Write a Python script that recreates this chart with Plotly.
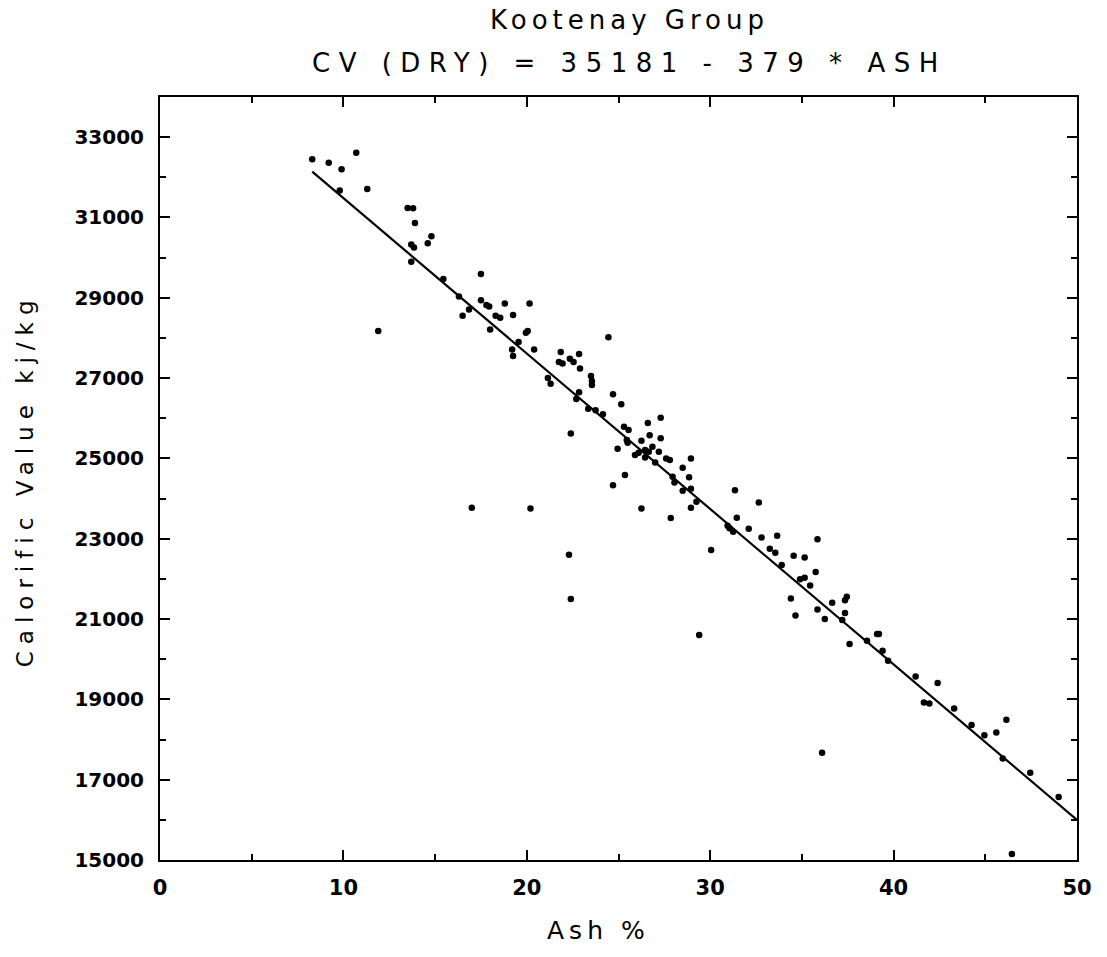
import plotly.graph_objects as go

# Ash % (x) and dry calorific value kJ/kg (y)
ash = [
    8.3, 9.2, 9.9, 10.7, 9.8, 11.3, 13.5, 13.8, 13.9, 14.8, 14.6, 13.7, 13.85, 13.7, 15.45, 16.3, 16.5, 16.85, 11.9,
    17.5, 17.5, 17.8, 17.95, 18.8, 20.15, 18.3, 18.55, 19.25, 18.0, 19.95, 20.05, 19.55, 20.4, 19.2, 19.25,
    21.85, 22.85, 21.75, 21.95, 22.35, 22.55, 22.9, 24.45, 21.15, 21.3, 23.5, 23.55, 23.55, 22.85, 22.7,
    24.7, 25.15, 23.35, 23.75, 24.15, 22.4, 25.3, 25.55, 26.6, 27.3, 25.45, 25.5, 26.7, 27.3, 26.25, 24.95,
    26.45, 26.65, 26.85, 27.2, 25.9, 26.1, 26.45, 27.0, 27.6, 27.8, 28.95, 28.5, 25.35, 27.95, 28.05, 28.85,
    24.7, 28.5, 28.95, 17.0, 20.2, 26.25, 28.95, 29.25, 22.3, 22.4,
    31.35, 32.65, 31.45, 30.95, 31.05, 31.25, 32.1, 32.8, 33.65, 35.85, 33.25, 33.55, 34.55, 35.15, 33.9,
    34.9, 35.15, 35.45, 35.75, 30.05, 27.85, 34.4, 34.65, 35.85, 36.25, 36.65, 37.45, 37.35, 37.35, 37.2, 29.4,
    37.6, 36.1, 38.55, 39.1, 39.2, 39.4, 39.7, 41.2, 42.4, 41.65, 41.95, 43.3, 44.25, 44.95, 45.6, 46.15,
    45.95, 47.45, 49.0, 46.45,
]
cv = [
    32450, 32360, 32200, 32610, 31670, 31710, 31235, 31230, 30860, 30530, 30360, 30330, 30250, 29900, 29470, 29030, 28550, 28710, 28170,
    29590, 28940, 28820, 28780, 28860, 28860, 28550, 28500, 28570, 28210, 28130, 28170, 27900, 27710, 27710, 27550,
    27650, 27600, 27400, 27365, 27485, 27400, 27240, 28015, 27000, 26860, 27050, 26930, 26830, 26650, 26480,
    26600, 26350, 26240, 26200, 26100, 25620, 25790, 25710, 25880, 26010, 25460, 25390, 25580, 25500, 25440, 25240,
    25210, 25165, 25290, 25165, 25085, 25140, 25025, 24900, 25000, 24960, 25000, 24770, 24590, 24545, 24400, 24530,
    24330, 24195, 24245, 23770, 23755, 23755, 23770, 23920, 22600, 21500,
    24205, 23905, 23525, 23325, 23260, 23175, 23250, 23030, 23075, 22990, 22750, 22650, 22575, 22535, 22345,
    21990, 22030, 21835, 22170, 22720, 23515, 21510, 21090, 21240, 21000, 21405, 21555, 21470, 21150, 20975, 20600,
    20380, 17670, 20460, 20630, 20630, 20210, 19960, 19570, 19405, 18920, 18900, 18770, 18360, 18105, 18175, 18495,
    17530, 17175, 16570, 15150,
]

# Regression line endpoints (as drawn)
fit_ash = [8.3, 50]
fit_cv = [32140, 16000]

x_ticks = [0, 10, 20, 30, 40, 50]
y_ticks = [15000, 17000, 19000, 21000, 23000, 25000, 27000, 29000, 31000, 33000]

title_1 = "Kootenay Group"
title_2 = "CV (DRY) = 35181 - 379 * ASH"
x_title = "Ash %"
y_title = "Calorific Value kj/kg"

FONT = "DejaVu Sans"

fig = go.Figure()
fig.add_trace(go.Scatter(x=fit_ash, y=fit_cv, mode="lines",
                         line=dict(color="black", width=2.2), showlegend=False))
fig.add_trace(go.Scatter(x=ash, y=cv, mode="markers",
                         marker=dict(color="black", size=6.5), showlegend=False))

axis_common = dict(
    showgrid=False, zeroline=False, showline=True, linecolor="black", linewidth=2,
    mirror="ticks", ticks="inside", tickcolor="black", tickwidth=2, ticklen=10,
)

fig.update_xaxes(range=[0, 50], tickvals=x_ticks, tickformat="d", ticklabelstandoff=8,
                 tickfont=dict(family=FONT, size=21, color="black", weight="bold"),
                 minor=dict(dtick=5, ticks="inside", ticklen=6, tickwidth=2, tickcolor="black"),
                 **axis_common)
fig.update_yaxes(range=[15000, 34000], tickvals=y_ticks, tickformat="d", ticklabelstandoff=10,
                 tickfont=dict(family=FONT, size=20, color="black", weight="bold"),
                 minor=dict(dtick=1000, tick0=15000, ticks="inside", ticklen=6, tickwidth=2, tickcolor="black"),
                 **axis_common)

ls = "letter-spacing:{}px"
annos = [
    dict(text=f"<span style='{ls.format(5)}'>{title_1}</span>", x=0.5125, y=1.101, size=26),
    dict(text=f"<span style='{ls.format(8.5)}'>{title_2}</span>", x=0.512, y=1.0446, size=26),
    dict(text=f"<span style='{ls.format(5)}'>{x_title}</span>", x=0.478, y=-0.092, size=25),
]
layout_annos = []
for a in annos:
    layout_annos.append(dict(text=a["text"], x=a["x"], y=a["y"], xref="paper", yref="paper",
                             showarrow=False, xanchor="center", yanchor="middle",
                             font=dict(family=FONT, size=a["size"], color="black")))
layout_annos.append(dict(text=f"<span style='{ls.format(7)}'>{y_title}</span>", x=-0.147, y=0.498,
                         xref="paper", yref="paper", showarrow=False, textangle=-90,
                         xanchor="center", yanchor="middle",
                         font=dict(family=FONT, size=23, color="black")))

fig.update_layout(
    width=1107, height=957,
    margin=dict(l=160, r=30, t=97, b=97),
    paper_bgcolor="white", plot_bgcolor="white",
    annotations=layout_annos,
)

fig.write_html("out.html")
